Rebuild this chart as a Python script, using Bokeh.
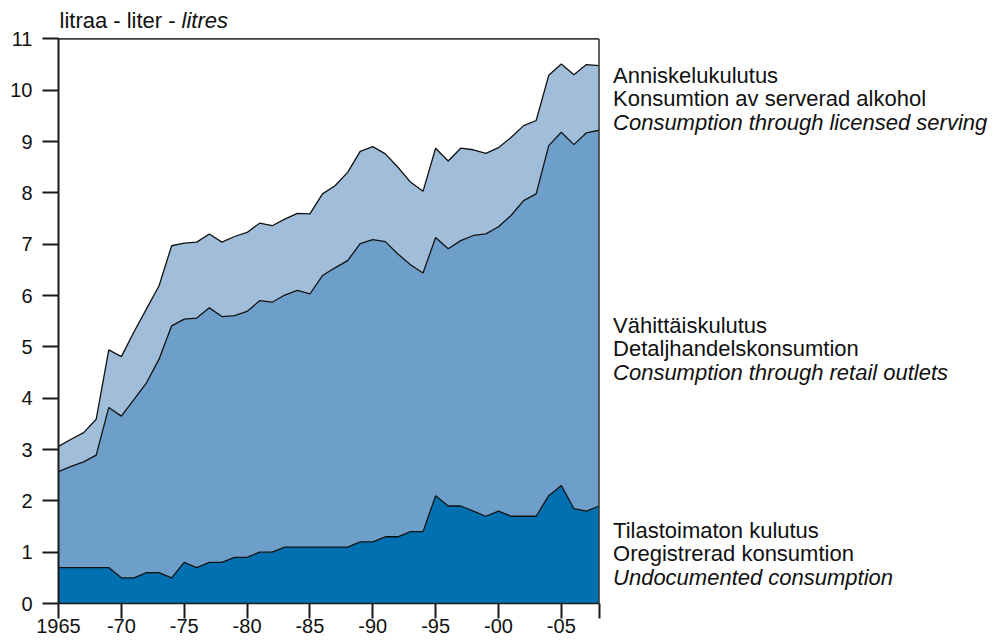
from bokeh.plotting import figure
from bokeh.models import Range1d, FixedTicker, Label, ColumnDataSource
from bokeh.embed import file_html
from bokeh.resources import INLINE

years = list(range(1965, 2009))
undocumented = [0.7, 0.7, 0.7, 0.7, 0.7, 0.5, 0.5, 0.6, 0.6, 0.5,
                0.8, 0.7, 0.8, 0.8, 0.9, 0.9, 1.0, 1.0, 1.1, 1.1,
                1.1, 1.1, 1.1, 1.1, 1.2, 1.2, 1.3, 1.3, 1.4, 1.4,
                2.1, 1.9, 1.9, 1.8, 1.7, 1.8, 1.7, 1.7, 1.7, 2.1,
                2.3, 1.85, 1.8, 1.9]
retail = [1.87, 1.97, 2.06, 2.19, 3.12, 3.15, 3.47, 3.70, 4.16, 4.91,
          4.74, 4.86, 4.96, 4.79, 4.71, 4.79, 4.90, 4.87, 4.91, 5.00,
          4.93, 5.29, 5.44, 5.58, 5.81, 5.89, 5.75, 5.51, 5.20, 5.04,
          5.03, 5.01, 5.17, 5.37, 5.50, 5.54, 5.86, 6.15, 6.28, 6.82,
          6.88, 7.09, 7.37, 7.32]
licensed = [0.49, 0.53, 0.57, 0.70, 1.12, 1.16, 1.32, 1.44, 1.43, 1.56,
            1.48, 1.48, 1.44, 1.45, 1.54, 1.54, 1.51, 1.49, 1.48, 1.50,
            1.56, 1.59, 1.60, 1.72, 1.80, 1.81, 1.71, 1.69, 1.61, 1.59,
            1.74, 1.71, 1.80, 1.67, 1.57, 1.54, 1.52, 1.46, 1.43, 1.37,
            1.33, 1.36, 1.33, 1.26]

x_ticks = [1965, 1970, 1975, 1980, 1985, 1990, 1995, 2000, 2005, 2008]
x_tick_labels = ["1965", "-70", "-75", "-80", "-85", "-90", "-95", "-00", "-05", ""]
y_ticks = list(range(0, 12))

unit_title = ["litraa - liter - ", "litres"]
licensed_label = ["Anniskelukulutus", "Konsumtion av serverad alkohol",
                  "Consumption through licensed serving"]
retail_label = ["Vähittäiskulutus", "Detaljhandelskonsumtion",
                "Consumption through retail outlets"]
undoc_label = ["Tilastoimaton kulutus", "Oregistrerad konsumtion",
               "Undocumented consumption"]

colors = ["#0070B0", "#6E9FCB", "#A0BEDA"]
FONT = "Liberation Sans"
TEXT_COLOR = "#111111"
FRAME_COLOR = "#3c3c3c"

source = ColumnDataSource(dict(year=years, undoc=undocumented,
                               retail=retail, licensed=licensed))

x0, x1 = years[0], years[-1]
y0, y1 = y_ticks[0], y_ticks[-1]

# The frame is extended to the right and upward so that the side labels
# and the unit title (drawn as annotations) are not clipped.
p = figure(width=998, height=640, x_range=Range1d(x0, 2039.78),
           y_range=Range1d(y0, 11.748), output_backend="svg",
           toolbar_location=None, min_border_left=58, min_border_right=0,
           min_border_top=0, min_border_bottom=37)

p.varea_stack(stackers=["undoc", "retail", "licensed"], x="year",
              color=colors, source=source)
p.vline_stack(stackers=["undoc", "retail", "licensed"], x="year",
              line_color=TEXT_COLOR, line_width=1.3, source=source)

# top and right border of the chart box
p.segment(x0=[x0, x1], y0=[y1, y0], x1=[x1, x1], y1=[y1, y1],
          line_color=FRAME_COLOR, line_width=1.6)

p.xgrid.grid_line_color = None
p.ygrid.grid_line_color = None
p.outline_line_color = None
p.background_fill_color = "white"
p.border_fill_color = "white"

xa = p.xaxis[0]
xa.ticker = FixedTicker(ticks=x_ticks)
xa.bounds = (x0, x1)
xa.major_label_overrides = {t: l for t, l in zip(x_ticks, x_tick_labels)}
xa.major_tick_out = 15
xa.major_tick_in = 0
xa.minor_tick_line_color = None
xa.major_tick_line_width = 2
xa.major_tick_line_color = "#1a1a1a"
xa.axis_line_color = "#1a1a1a"
xa.axis_line_width = 1.5
xa.major_label_standoff = 0
xa.major_label_text_font = FONT
xa.major_label_text_font_size = "20px"
xa.major_label_text_color = TEXT_COLOR

ya = p.yaxis[0]
ya.ticker = FixedTicker(ticks=y_ticks)
ya.bounds = (y0, y1)
ya.major_tick_out = 16
ya.major_tick_in = 0
ya.minor_tick_line_color = None
ya.major_tick_line_width = 2
ya.major_tick_line_color = "#1a1a1a"
ya.axis_line_color = "#1a1a1a"
ya.axis_line_width = 2
ya.major_label_standoff = 10
ya.major_label_text_font = FONT
ya.major_label_text_font_size = "20px"
ya.major_label_text_color = TEXT_COLOR

# unit title above the plot
p.add_layout(Label(x=x0, y=y1, y_offset=18, x_offset=1, text=unit_title[0],
                   text_font=FONT, text_font_size="22px", text_color=TEXT_COLOR,
                   text_baseline="alphabetic"))
p.add_layout(Label(x=x0, y=y1, y_offset=18, x_offset=123,
                   text=unit_title[1], text_font=FONT, text_font_size="22px",
                   text_font_style="italic", text_color=TEXT_COLOR,
                   text_baseline="alphabetic"))

for lines, ybase in [(licensed_label, 10.16), (retail_label, 5.28), (undoc_label, 1.29)]:
    for i, t in enumerate(lines):
        p.add_layout(Label(x=x1, y=ybase, x_offset=14, y_offset=7 - 23.5 * i,
                           text=t, text_font=FONT, text_font_size="22px",
                           text_font_style="italic" if i == 2 else "normal",
                           text_color=TEXT_COLOR, text_baseline="alphabetic"))

open("out.html", "w").write(file_html(p, INLINE))
